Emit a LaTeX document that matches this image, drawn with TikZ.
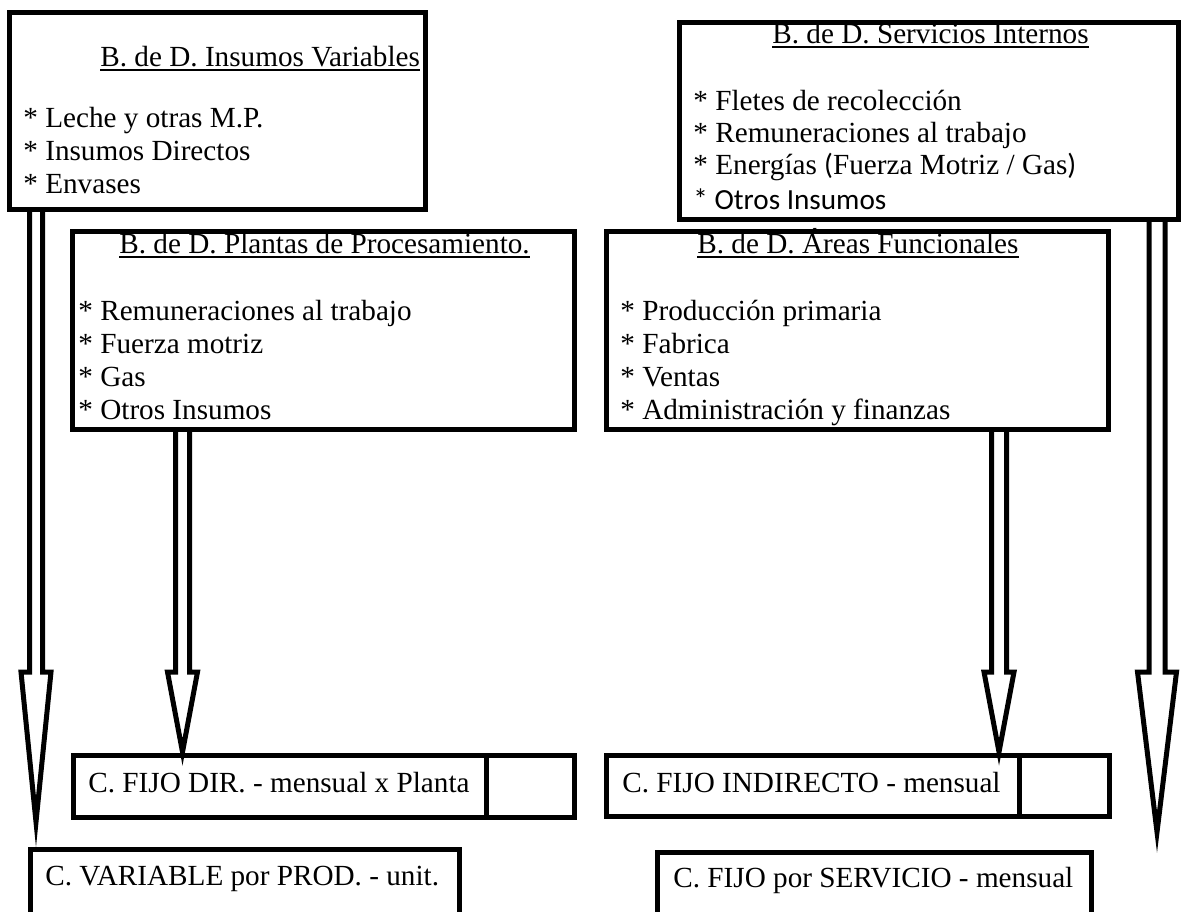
\documentclass[tikz,border=0pt]{standalone}
\usepackage{fontspec}
\setmainfont{Liberation Serif}
\newfontfamily\carlitofont{Carlito}
\usetikzlibrary{calc}
\newcommand\myul[1]{\setbox0\hbox{#1}\rlap{\rule[-2.4pt]{\wd0}{0.9pt}}\box0}
\newcommand\blockarrow[5]{%
  \draw[arr] let \p1=(#1.south), \p2=(#2) in
   (\x2-#3*0.5pt,\y1) -- (\x2-#3*0.5pt,-#5*0.5pt) -- (\x2-#4*0.5pt,-#5*0.5pt) -- (\p2)
   -- (\x2+#4*0.5pt,-#5*0.5pt) -- (\x2+#3*0.5pt,-#5*0.5pt) -- (\x2+#3*0.5pt,\y1);}
\begin{document}
\begin{tikzpicture}[x=0.5pt,y=-0.5pt,
  box/.style={draw, line width=2.5pt, fill=white, inner sep=0pt, outer sep=0pt, anchor=north west},
  txt/.style={inner sep=0pt, anchor=base west, font=\fontsize{14.6pt}{16pt}\selectfont},
  arr/.style={draw, line width=2.5pt, miter limit=40, line join=miter},
  divline/.style={line width=2.5pt}]
\useasboundingbox (0,0) rectangle (1182,911);
% boxes
\node[box, minimum width=208pt, minimum height=98.5pt] (insv) at (9.5,12.5) {};
\node[box, minimum width=249.5pt, minimum height=98.5pt] (serv) at (679.5,22.5) {};
\node[box, minimum width=251pt, minimum height=99pt] (plan) at (72.5,231.5) {};
\node[box, minimum width=251pt, minimum height=99pt] (area) at (606.5,231.5) {};
\node[box, minimum width=250.5pt, minimum height=31pt] (dir) at (73.5,755.5) {};
\node[box, minimum width=251.5pt, minimum height=30.5pt] (ind) at (606.5,755.5) {};
\node[box, minimum width=214.5pt, minimum height=40pt] (var) at (30.5,849.5) {};
\node[box, minimum width=217pt, minimum height=39pt] (sfs) at (657.5,852.5) {};
% dividers
\coordinate (d1) at (486,0);
\coordinate (d2) at (1019,0);
\draw[divline] (d1 |- dir.north) -- (d1 |- dir.south);
\draw[divline] (d2 |- ind.north) -- (d2 |- ind.south);
% arrows
\coordinate (t1) at (36,822);
\coordinate (t2) at (182.5,752);
\coordinate (t3) at (999,752);
\coordinate (t4) at (1157,832);
\blockarrow{insv}{t1}{6.5}{15}{672}
\blockarrow{plan}{t2}{7}{15}{672}
\blockarrow{area}{t3}{7.5}{15}{672}
\blockarrow{serv}{t4}{8}{19.5}{672}
% texts box 1
\node[txt] (h1) at (100,66) {\myul{B. de D. Insumos Variables}};
\node[txt] (a1) at (23,127) {* Leche y otras M.P.};
\node[txt] (a2) at (23,160) {* Insumos Directos};
\node[txt] (a3) at (23,193) {* Envases};
% servicios
\node[txt] (h2) at (772,43) {\myul{B. de D. Servicios Internos}};
\node[txt] (s1) at (693,110) {* Fletes de recolección};
\node[txt] (s2) at (693,142) {* Remuneraciones al trabajo};
\node[txt] (s3) at (693,174) {* Energías {\carlitofont(}Fuerza Motriz / Gas{\carlitofont)}};
\node[txt] (s4) at (693,209) {\carlitofont * Otros Insumos};
% plantas
\node[txt] (h3) at (119,253) {\myul{B. de D. Plantas de Procesamiento.}};
\node[txt] (p1) at (78,320) {* Remuneraciones al trabajo};
\node[txt] (p2) at (78,353) {* Fuerza motriz};
\node[txt] (p3) at (78,386) {* Gas};
\node[txt] (p4) at (78,419) {* Otros Insumos};
% areas
\node[txt] (h4) at (697,253) {\myul{B. de D. Áreas Funcionales}};
\node[txt] (r1) at (620,320) {* Producción primaria};
\node[txt] (r2) at (620,353) {* Fabrica};
\node[txt] (r3) at (620,386) {* Ventas};
\node[txt] (r4) at (620,419) {* Administración y finanzas};
% bottom
\node[txt] (c1) at (88,792) {C. FIJO DIR. - mensual x Planta};
\node[txt] (c2) at (622,792) {C. FIJO INDIRECTO - mensual};
\node[txt] (c3) at (45,885) {C. VARIABLE por PROD. - unit.};
\node[txt] (c4) at (673,887) {C. FIJO por SERVICIO - mensual};
\end{tikzpicture}
\end{document}
